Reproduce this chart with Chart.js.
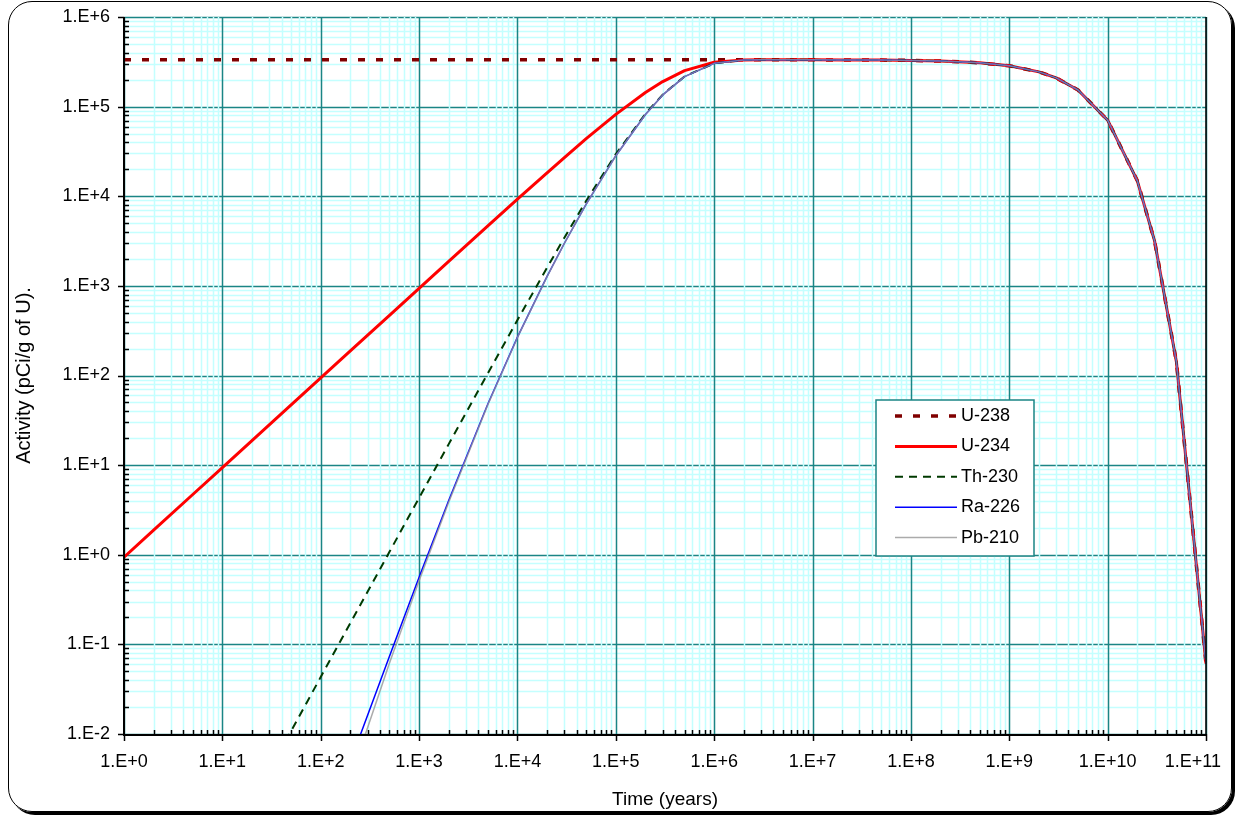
<!DOCTYPE html>
<html>
<head>
<meta charset="utf-8">
<script src="https://cdn.jsdelivr.net/npm/chart.js@4.4.1/dist/chart.umd.min.js"></script>
<style>
  html, body { margin: 0; padding: 0; background: #fff; }
  #frame {
    position: absolute; left: 8px; top: 1px; width: 1222px; height: 809px;
    border: 1.5px solid #000; border-radius: 24px; box-shadow: 3px 3px 0 #000;
  }
  #c { position: absolute; left: 0; top: 0; }
</style>
</head>
<body>
<div id="frame"></div>
<canvas id="c" width="1238" height="817"></canvas>
<script>
// time points (years)
const years = [1, 2, 5, 10, 20, 50, 100, 200, 500, 1e3, 2e3, 5e3, 1e4, 2e4, 3e4, 5e4,
  1e5, 2e5, 3e5, 5e5, 1e6, 2e6, 3e6, 5e6, 1e7, 2e7, 5e7, 1e8, 2e8, 5e8,
  1e9, 2e9, 3e9, 5e9, 1e10, 2e10, 3e10, 5e10, 1e11];

// activity, pCi per g of U
const u238 = [333000, 333000, 333000, 333000, 333000, 333000, 333000, 333000, 333000, 333000,
  333000, 333000, 333000, 333000, 333000, 333000, 333000, 333000, 333000, 333000,
  332950, 332900, 332850, 332740,
  332480, 331970, 330430, 327870, 322810, 308150, 285160, 244190, 209110, 153330,
  70600, 14968, 3173, 142.7, 0.0611];
const u234 = [0.94, 1.88, 4.70, 9.40, 18.8, 47.0, 94.0, 188, 469.7, 938.7,
  1875, 4669, 9270, 18280, 27040, 43850, 81880, 143650, 190240, 251800,
  313200, 331800, 332800, 332740,
  332480, 331970, 330430, 327870, 322810, 308150, 285160, 244190, 209110, 153330,
  70600, 14968, 3173, 142.7, 0.0611];
const th230 = [4.32e-6, 1.73e-5, 1.08e-4, 4.32e-4, 1.73e-3, 0.0108, 0.0432, 0.1729, 1.078, 4.305,
  17.15, 105.9, 415.3, 1597, 3453, 8885, 29490, 83240, 136340, 217350,
  304460, 331300, 332800, 332740,
  332480, 331970, 330430, 327870, 322810, 308150, 285160, 244190, 209110, 153330,
  70600, 14968, 3173, 142.7, 0.0611];
const ra226 = [6.2e-10, 5.0e-9, 7.8e-8, 6.2e-7, 4.98e-6, 7.74e-5, 6.17e-4, 4.89e-3, 0.0738, 0.561,
  4.03, 48.1, 268, 1275, 2990, 8182, 28330, 81800, 135030, 216300,
  304120, 331200, 332800, 332740,
  332480, 331970, 330430, 327870, 322810, 308150, 285160, 244190, 209110, 153330,
  70600, 14968, 3173, 142.7, 0.0611];
const pb210 = [4.9e-12, 7.8e-11, 3.0e-9, 4.5e-8, 7.2e-7, 2.28e-5, 2.9e-4, 3.17e-3, 0.062, 0.513,
  3.85, 47.3, 265.9, 1270, 2984, 8172, 28314, 81780, 135010, 216285,
  304110, 331200, 332800, 332740,
  332480, 331970, 330430, 327870, 322810, 308150, 285160, 244190, 209110, 153330,
  70600, 14968, 3173, 142.7, 0.0611];

// axis ticks (powers of ten)
const xTicks = [1, 1e1, 1e2, 1e3, 1e4, 1e5, 1e6, 1e7, 1e8, 1e9, 1e10, 1e11];
const yTicks = [1e-2, 1e-1, 1, 1e1, 1e2, 1e3, 1e4, 1e5, 1e6];

const FONT = 'Liberation Sans, Arial, Helvetica, sans-serif';
const TEAL = '#1a8585';
const CYAN = '#c4ffff';

function expLabel(v) {
  const e = Math.round(Math.log10(v));
  return '1.E' + (e < 0 ? '-' : '+') + Math.abs(e);
}

function pts(vals) {
  return years.map((t, i) => ({ x: t, y: vals[i] }));
}

// grid, axes, ticks and boxed legend drawn the Excel way
const excelLook = {
  id: 'excelLook',
  beforeDatasetsDraw(chart) {
    const { ctx, chartArea: a, scales: { x, y } } = chart;
    const yLo = Math.round(Math.log10(y.min)), yHi = Math.round(Math.log10(y.max));
    const xLo = Math.round(Math.log10(x.min)), xHi = Math.round(Math.log10(x.max));
    ctx.save();
    const hLine = (v, color, w) => {
      const p = Math.round(y.getPixelForValue(v)) + 0.5;
      ctx.strokeStyle = color; ctx.lineWidth = w;
      ctx.beginPath(); ctx.moveTo(a.left, p); ctx.lineTo(a.right, p); ctx.stroke();
    };
    const vLine = (v, color, w) => {
      const p = Math.round(x.getPixelForValue(v)) + 0.5;
      ctx.strokeStyle = color; ctx.lineWidth = w;
      ctx.beginPath(); ctx.moveTo(p, a.top); ctx.lineTo(p, a.bottom); ctx.stroke();
    };
    for (let e = yLo; e < yHi; e++)
      for (let m = 2; m <= 9; m++) hLine(m * Math.pow(10, e), CYAN, 1.5);
    yTicks.forEach(v => hLine(v, TEAL, 1.5));
    for (let e = xLo; e < xHi; e++)
      for (let m = 2; m <= 9; m++) vLine(m * Math.pow(10, e), CYAN, 1.5);
    xTicks.forEach(v => vLine(v, TEAL, 1.5));
    ctx.restore();
  },
  afterDatasetsDraw(chart) {
    const { ctx, chartArea: a, scales: { x, y } } = chart;
    const yLo = Math.round(Math.log10(y.min)), yHi = Math.round(Math.log10(y.max));
    const xLo = Math.round(Math.log10(x.min)), xHi = Math.round(Math.log10(x.max));
    ctx.save();
    ctx.strokeStyle = '#000';
    // right edge
    ctx.lineWidth = 1.5;
    ctx.beginPath(); ctx.moveTo(a.right, a.top); ctx.lineTo(a.right, a.bottom); ctx.stroke();
    // axis lines
    ctx.lineWidth = 2;
    ctx.beginPath();
    ctx.moveTo(a.left, a.top); ctx.lineTo(a.left, a.bottom + 1); ctx.lineTo(a.right, a.bottom + 1);
    ctx.stroke();
    ctx.lineWidth = 1.5;
    ctx.beginPath();
    for (let e = yLo; e < yHi; e++)
      for (let m = 2; m <= 9; m++) {
        const p = Math.round(y.getPixelForValue(m * Math.pow(10, e))) + 0.5;
        ctx.moveTo(a.left, p); ctx.lineTo(a.left + 5, p);
      }
    yTicks.forEach(v => {
      const p = Math.round(y.getPixelForValue(v)) + 0.5;
      ctx.moveTo(a.left - 6, p); ctx.lineTo(a.left, p);
    });
    for (let e = xLo; e < xHi; e++)
      for (let m = 2; m <= 9; m++) {
        const p = Math.round(x.getPixelForValue(m * Math.pow(10, e))) + 0.5;
        ctx.moveTo(p, a.bottom + 1); ctx.lineTo(p, a.bottom - 4);
      }
    xTicks.forEach(v => {
      const p = Math.round(x.getPixelForValue(v)) + 0.5;
      ctx.moveTo(p, a.bottom); ctx.lineTo(p, a.bottom + 7);
    });
    ctx.stroke();

    // last x label is pulled inside the frame, as Excel does
    ctx.font = '18px ' + FONT;
    ctx.fillStyle = '#000';
    ctx.textAlign = 'right';
    ctx.textBaseline = 'middle';
    const lastX = xTicks[xTicks.length - 1];
    ctx.fillText(expLabel(lastX), x.getPixelForValue(lastX) + 15, a.bottom + 28);

    // legend box
    const bx = 876, by = 400, bw = 158, bh = 156;
    ctx.fillStyle = '#fff';
    ctx.fillRect(bx, by, bw, bh);
    ctx.strokeStyle = TEAL; ctx.lineWidth = 1.5;
    ctx.strokeRect(bx, by, bw, bh);
    ctx.font = '18px ' + FONT;
    ctx.textBaseline = 'middle';
    ctx.textAlign = 'left';
    chart.data.datasets.forEach((ds, i) => {
      const ry = by + 16 + i * 30.4;
      ctx.strokeStyle = ds.borderColor;
      ctx.lineWidth = ds.borderWidth;
      ctx.setLineDash(ds.borderDash || []);
      ctx.beginPath(); ctx.moveTo(bx + 19, ry); ctx.lineTo(bx + 81, ry); ctx.stroke();
      ctx.setLineDash([]);
      ctx.fillStyle = '#000';
      ctx.fillText(ds.label, bx + 85, ry);
    });
    ctx.restore();
  }
};

const common = { pointRadius: 0, tension: 0, fill: false, borderJoinStyle: 'round', borderCapStyle: 'butt' };

new Chart(document.getElementById('c'), {
  type: 'line',
  data: {
    datasets: [
      { ...common, label: 'U-238', data: pts(u238), borderColor: '#800000', borderWidth: 3.5, borderDash: [7, 11], order: 5 },
      { ...common, label: 'U-234', data: pts(u234), borderColor: '#ff0000', borderWidth: 3, order: 4 },
      { ...common, label: 'Th-230', data: pts(th230), borderColor: '#003a00', borderWidth: 2, borderDash: [8, 6], order: 3 },
      { ...common, label: 'Ra-226', data: pts(ra226), borderColor: '#0000ff', borderWidth: 1.5, order: 2 },
      { ...common, label: 'Pb-210', data: pts(pb210), borderColor: 'rgba(150,150,150,0.8)', borderWidth: 1.5, order: 1 }
    ]
  },
  options: {
    responsive: false,
    animation: false,
    devicePixelRatio: 1,
    layout: { padding: { top: 17, right: 32, left: 0, bottom: 0 } },
    plugins: { legend: { display: false }, tooltip: { enabled: false } },
    scales: {
      x: {
        type: 'logarithmic', min: 1, max: 1e11,
        grid: { display: false, drawTicks: false },
        border: { display: false },
        afterBuildTicks: s => { s.ticks = xTicks.map(v => ({ value: v })); },
        afterFit: s => { s.height = 83; s.paddingLeft = 0; s.paddingRight = 0; },
        ticks: {
          callback: v => (v === xTicks[xTicks.length - 1] ? '' : expLabel(v)),
          color: '#000', autoSkip: false, maxRotation: 0,
          font: { family: FONT, size: 18 }, padding: 17
        },
        title: {
          display: true, text: 'Time (years)', color: '#000',
          font: { family: FONT, size: 19 }, padding: { top: 0, bottom: 6 }
        }
      },
      y: {
        type: 'logarithmic', min: 0.01, max: 1e6,
        grid: { display: false, drawTicks: false },
        border: { display: false },
        afterBuildTicks: s => { s.ticks = yTicks.map(v => ({ value: v })); },
        afterFit: s => { s.width = 124; s.paddingTop = 0; s.paddingBottom = 0; },
        ticks: {
          callback: v => expLabel(v), color: '#000', autoSkip: false,
          font: { family: FONT, size: 18 }, padding: 14
        },
        title: {
          display: true, text: 'Activity (pCi/g of U).', color: '#000',
          font: { family: FONT, size: 20 }, padding: { top: 12, bottom: 0 }
        }
      }
    }
  },
  plugins: [excelLook]
});
</script>
</body>
</html>
